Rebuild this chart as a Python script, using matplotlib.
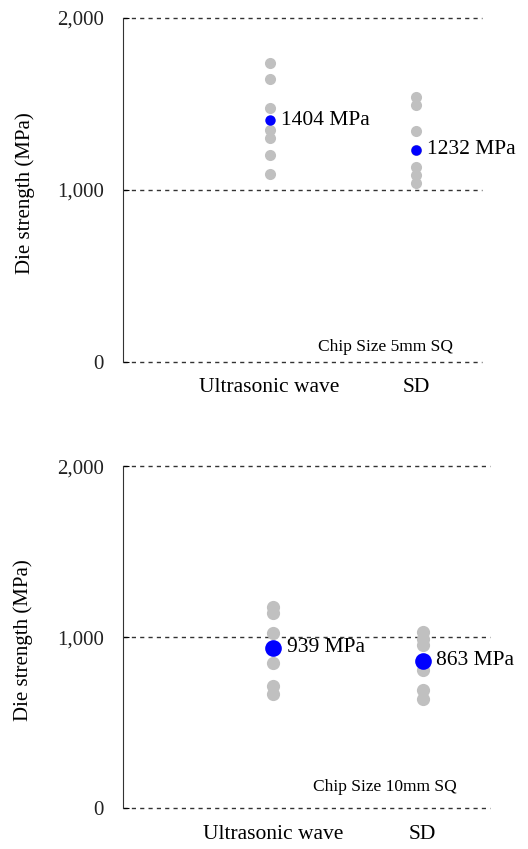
import matplotlib.pyplot as plt

categories = ['Ultrasonic wave', 'SD']

# chip size 5mm SQ
us_5mm = [1740, 1645, 1475, 1345, 1300, 1200, 1090]
sd_5mm = [1542, 1491, 1343, 1232, 1135, 1087, 1041]
mean_5mm = [1404, 1232]

# chip size 10mm SQ
us_10mm = [1177, 1142, 1025, 850, 713, 665]
sd_10mm = [1031, 992, 953, 807, 690, 641]
mean_10mm = [939, 863]

plt.rcParams['font.family'] = ['Liberation Serif', 'DejaVu Serif']

fig = plt.figure(figsize=(5.28, 8.49), dpi=100)


def draw_panel(ax, us, sd, means, note, note_x, note_y, dot_size, mean_size, off):
    ax.plot([1] * len(us), us, 'o', color='#c0c0c0', markersize=dot_size,
            markeredgewidth=0, zorder=3)
    ax.plot([2] * len(sd), sd, 'o', color='#c0c0c0', markersize=dot_size,
            markeredgewidth=0, zorder=3)
    ax.plot([1, 2], means, 'o', color='#0000ff', markersize=mean_size,
            markeredgewidth=0, zorder=4)
    for x, m in zip([1, 2], means):
        ax.annotate('%d MPa' % m, (x, m), xytext=(off, 0), textcoords='offset points',
                    va='center', ha='left', fontsize=15.5)
    ax.set_xlim(0, 2.45)
    ax.set_ylim(0, 2000)
    ax.set_yticks([0, 1000, 2000])
    ax.set_yticklabels(['0', '1,000', '2,000'], fontsize=15, color='#222222')
    ax.set_xticks([1, 2])
    ax.set_xticklabels(categories, fontsize=15.5)
    ax.tick_params(axis='x', length=0, pad=12)
    ax.tick_params(axis='y', direction='in', length=4, pad=14)
    for y in [0, 1000, 2000]:
        ax.axhline(y, color='#333333', linestyle=(0, (3, 3)), linewidth=1, zorder=1,
                   clip_on=False)
    for s in ['top', 'right', 'bottom']:
        ax.spines[s].set_visible(False)
    ax.spines['left'].set_color('#333333')
    ax.set_ylabel('Die strength (MPa)', fontsize=15)
    ax.yaxis.set_label_coords(-0.245, 0.49)
    ax.text(note_x, note_y, note, ha='center', va='center', fontsize=12.5)


ax1 = fig.add_axes([0.233, 0.574, 0.680, 0.405])
draw_panel(ax1, us_5mm, sd_5mm, mean_5mm, 'Chip Size 5mm SQ', 1.79, 83, 8, 7.5, 8)

ax2 = fig.add_axes([0.233, 0.048, 0.695, 0.403])
draw_panel(ax2, us_10mm, sd_10mm, mean_10mm, 'Chip Size 10mm SQ', 1.75, 124, 9.5, 12, 10)

plt.savefig('out.png', dpi=100)
